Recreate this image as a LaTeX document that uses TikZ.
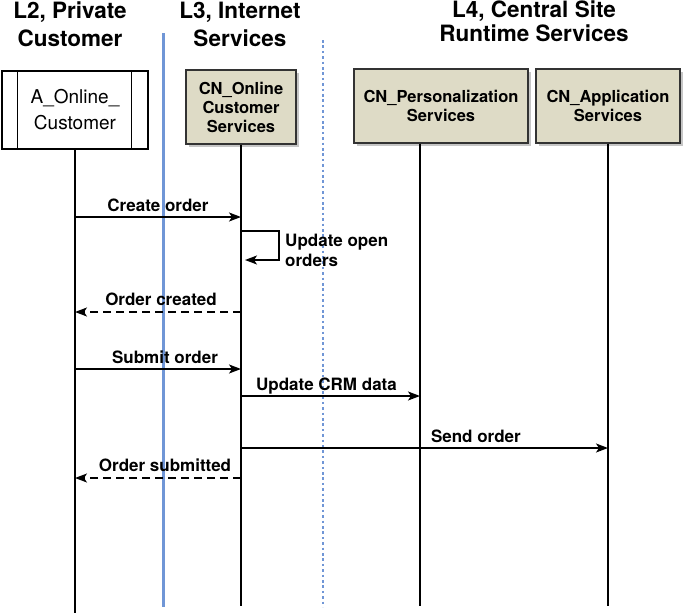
\documentclass[tikz,border=0pt]{standalone}
\usepackage{fontspec}
\setmainfont{TeX Gyre Heros}
\usetikzlibrary{arrows.meta, positioning, calc, shadows}
\definecolor{boxfill}{RGB}{222,219,198}
\definecolor{zoneblue}{RGB}{112,150,214}
\tikzset{
    layer/.style={align=center, font=\fontsize{22.5}{28}\selectfont\bfseries},
    actor/.style={draw=black, line width=1.2pt, fill=white, align=center, minimum width=146pt, minimum height=78pt, font=\fontsize{19}{26}\selectfont},
    svc/.style={draw=black!80, line width=1.2pt, fill=boxfill, align=center, font=\fontsize{16.5}{19}\selectfont\bfseries, drop shadow={shadow xshift=3pt, shadow yshift=-3pt, opacity=0.45}},
    life/.style={line width=1.5pt, black},
    msg/.style={-{Stealth[length=12pt, width=9pt, inset=3pt]}, line width=1.5pt, black},
    reply/.style={msg, dash pattern=on 8pt off 5pt},
    lbl/.style={font=\fontsize{17}{20}\selectfont\bfseries, text depth=0pt, inner sep=2pt}
}

\begin{document}
\begin{tikzpicture}[x=1pt, y=-1pt]
    \useasboundingbox (0,0) rectangle (691,613);

    % Zonen
    \node[layer] (L2) at (70,24) {L2, Private\\Customer};
    \node[layer] (L3) at (240,24) {L3, Internet\\Services};
    \node[layer, font=\fontsize{22.5}{24}\selectfont\bfseries] (L4) at (534,21) {L4, Central Site\\Runtime Services};
    \draw[zoneblue, line width=3pt] (163,33) -- (163,607);
    \draw[zoneblue, line width=2.6pt, dash pattern=on 2.6pt off 2.8pt] (323,40) -- (323,607);

    % Teilnehmer
    \node[actor] (A) at (75,110) {A\_Online\_\\Customer};
    \draw[line width=1.2pt] ([xshift=16pt]A.north west) -- ([xshift=16pt]A.south west);
    \draw[line width=1.2pt] ([xshift=-17pt]A.north east) -- ([xshift=-17pt]A.south east);
    \node[svc, minimum width=110pt, minimum height=74pt] (OCS) at (241,107) {CN\_Online\\Customer\\Services};
    \node[svc, minimum width=174pt, minimum height=74pt] (PS) at (441,106) {CN\_Personalization\\Services};
    \node[svc, minimum width=144pt, minimum height=74pt] (AS) at (608,106) {CN\_Application\\Services};

    % Lebenslinien
    \coordinate (bot) at (0,606);
    \coordinate (PSl) at ([xshift=-21pt]PS.south);
    \draw[life] (A) -- (A |- 0,613);
    \draw[life] (OCS) -- (OCS |- bot);
    \draw[life] (PSl) -- (PSl |- bot);
    \draw[life] (AS) -- (AS |- bot);

    % Nachrichten
    \coordinate (m1) at (0,217);
    \coordinate (s1) at (0,231);
    \coordinate (s2) at (0,260);
    \coordinate (m2) at (0,312);
    \coordinate (m3) at (0,369);
    \coordinate (m4) at (0,396);
    \coordinate (m5) at (0,448);
    \coordinate (m6) at (0,478);

    \draw[msg] (A |- m1) -- (OCS |- m1) node[lbl, midway, above=3pt] {Create order};
    \draw[msg] (OCS |- s1) -- ++(38,0) |- ($(OCS |- s2)+(4,0)$);
    \node[lbl, anchor=west, align=left] (uoo) at (283,250) {Update open\\orders};
    \draw[reply] (OCS |- m2) -- (A |- m2) node[lbl, midway, above=4pt, xshift=3pt] {Order created};
    \draw[msg] (A |- m3) -- (OCS |- m3) node[lbl, midway, above=3pt, xshift=7pt] {Submit order};
    \draw[msg] (OCS |- m4) -- (PSl |- m4) node[lbl, midway, above=3pt, xshift=-4pt] {Update CRM data};
    \draw[msg] (OCS |- m5) -- (AS |- m5) node[lbl, pos=0.64, above=3pt] {Send order};
    \draw[reply] (OCS |- m6) -- (A |- m6) node[lbl, midway, above=4pt, xshift=7pt] {Order submitted};
\end{tikzpicture}
\end{document}
